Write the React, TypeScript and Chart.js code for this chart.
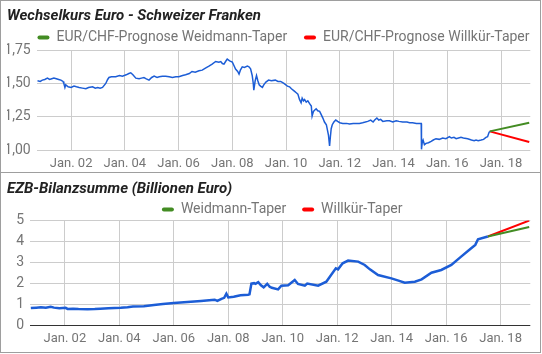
import React, { useEffect, useRef } from 'react';
import { Chart, registerables } from 'chart.js';

Chart.register(...registerables);

// ---------- data ----------
const chfYears = [
  2000.75, 2000.85, 2000.93, 2001.02, 2001.12, 2001.2, 2001.28, 2001.36, 2001.45, 2001.54, 2001.62, 2001.7,
  2001.73, 2001.77, 2001.8, 2001.89, 2002.0, 2002.11, 2002.2, 2002.3, 2002.42, 2002.55, 2002.65, 2002.8,
  2002.9, 2002.99, 2003.08, 2003.17, 2003.29, 2003.36, 2003.41, 2003.5, 2003.66, 2003.8, 2003.91, 2004.05,
  2004.15, 2004.22, 2004.3, 2004.41, 2004.53, 2004.62, 2004.71, 2004.8, 2004.9, 2005.0, 2005.09, 2005.2,
  2005.28, 2005.4, 2005.52, 2005.65, 2005.77, 2005.9, 2006.01, 2006.15, 2006.26, 2006.4, 2006.5, 2006.62,
  2006.76, 2006.88, 2007.0, 2007.13, 2007.25, 2007.38, 2007.5, 2007.57, 2007.63, 2007.69, 2007.75, 2007.81,
  2007.9, 2008.0, 2008.06, 2008.12, 2008.2, 2008.25, 2008.3, 2008.37, 2008.45, 2008.56, 2008.62, 2008.68,
  2008.74, 2008.78, 2008.8, 2008.85, 2008.9, 2008.95, 2009.0, 2009.05, 2009.12, 2009.17, 2009.25, 2009.35,
  2009.45, 2009.6, 2009.7, 2009.8, 2009.92, 2010.05, 2010.13, 2010.2, 2010.32, 2010.38, 2010.44, 2010.5,
  2010.56, 2010.6, 2010.65, 2010.69, 2010.75, 2010.81, 2010.87, 2010.94, 2010.97, 2011.02, 2011.07, 2011.12,
  2011.18, 2011.25, 2011.3, 2011.37, 2011.43, 2011.5, 2011.55, 2011.58, 2011.62, 2011.65, 2011.68, 2011.72,
  2011.78, 2011.85, 2011.92, 2012.0, 2012.11, 2012.25, 2012.36, 2012.5, 2012.6, 2012.73, 2012.85, 2012.95,
  2013.04, 2013.15, 2013.24, 2013.3, 2013.38, 2013.45, 2013.52, 2013.6, 2013.75, 2013.85, 2013.97, 2014.1,
  2014.2, 2014.34, 2014.5, 2014.6, 2014.71, 2014.85, 2014.95, 2015.03, 2015.04, 2015.07, 2015.1, 2015.15,
  2015.21, 2015.3, 2015.4, 2015.48, 2015.58, 2015.7, 2015.83, 2015.95, 2016.08, 2016.15, 2016.25, 2016.33,
  2016.42, 2016.51, 2016.6, 2016.76, 2016.9, 2017.0, 2017.07, 2017.15, 2017.26, 2017.35, 2017.44, 2017.5,
  2017.55, 2017.58,
];
const chfValues = [
  1.52, 1.515, 1.525, 1.53, 1.54, 1.53, 1.535, 1.54, 1.535, 1.53, 1.525, 1.515,
  1.5, 1.47, 1.49, 1.475, 1.47, 1.48, 1.475, 1.47, 1.465, 1.46, 1.47, 1.475,
  1.465, 1.47, 1.465, 1.47, 1.5, 1.53, 1.545, 1.55, 1.55, 1.56, 1.555, 1.565,
  1.575, 1.58, 1.565, 1.54, 1.535, 1.54, 1.545, 1.535, 1.525, 1.545, 1.555, 1.545,
  1.55, 1.555, 1.555, 1.55, 1.545, 1.55, 1.55, 1.56, 1.565, 1.575, 1.59, 1.585,
  1.595, 1.6, 1.615, 1.63, 1.645, 1.665, 1.66, 1.665, 1.65, 1.645, 1.665, 1.683,
  1.67, 1.66, 1.635, 1.608, 1.59, 1.57, 1.6, 1.625, 1.62, 1.63, 1.625, 1.61,
  1.56, 1.5, 1.45, 1.52, 1.56, 1.52, 1.49, 1.48, 1.47, 1.49, 1.51, 1.525,
  1.52, 1.525, 1.515, 1.515, 1.5, 1.48, 1.475, 1.46, 1.44, 1.43, 1.42, 1.38,
  1.355, 1.39, 1.37, 1.38, 1.36, 1.37, 1.35, 1.33, 1.255, 1.29, 1.3, 1.31,
  1.295, 1.29, 1.27, 1.24, 1.21, 1.19, 1.14, 1.11, 1.03, 1.1, 1.16, 1.19,
  1.21, 1.225, 1.215, 1.205, 1.2, 1.2, 1.195, 1.2, 1.2, 1.2, 1.205, 1.21,
  1.215, 1.225, 1.21, 1.225, 1.24, 1.225, 1.23, 1.215, 1.22, 1.22, 1.21, 1.22,
  1.215, 1.21, 1.21, 1.205, 1.205, 1.2, 1.2, 1.2, 1.005, 1.06, 1.075, 1.04,
  1.05, 1.055, 1.065, 1.075, 1.085, 1.08, 1.09, 1.085, 1.1, 1.09, 1.095, 1.085,
  1.09, 1.095, 1.09, 1.085, 1.075, 1.07, 1.075, 1.07, 1.075, 1.08, 1.095, 1.1,
  1.13, 1.14,
];
const chfForecastYears = [2017.58, 2019.05];
const chfWeidmann = [1.14, 1.205];
const chfWillkuer = [1.14, 1.06];
const chfTicks = [1.0, 1.25, 1.5, 1.75];

const ezbYears = [
  2000.75, 2000.95, 2001.12, 2001.3, 2001.48, 2001.6, 2001.8, 2002.03, 2002.1, 2002.3, 2002.5, 2002.83,
  2003.1, 2003.3, 2003.6, 2004.05, 2004.3, 2004.5, 2004.9, 2005.27, 2005.6, 2006.0, 2006.5, 2007.0,
  2007.4, 2007.5, 2007.6, 2007.75, 2007.85, 2007.93, 2008.0, 2008.2, 2008.45, 2008.73, 2008.78, 2008.85,
  2008.95, 2009.0, 2009.1, 2009.2, 2009.3, 2009.43, 2009.52, 2009.6, 2009.83, 2009.95, 2010.2, 2010.44,
  2010.56, 2010.81, 2010.9, 2011.3, 2011.6, 2011.73, 2011.95, 2012.03, 2012.2, 2012.4, 2012.77, 2013.01,
  2013.2, 2013.5, 2013.99, 2014.25, 2014.48, 2014.85, 2015.1, 2015.46, 2015.82, 2016.19, 2016.55, 2016.92,
  2017.07, 2017.17, 2017.53,
];
const ezbValues = [
  0.81, 0.83, 0.85, 0.83, 0.87, 0.83, 0.8, 0.82, 0.77, 0.78, 0.76, 0.75,
  0.76, 0.78, 0.8, 0.82, 0.85, 0.88, 0.9, 0.96, 1.0, 1.05, 1.1, 1.15,
  1.2, 1.21, 1.15, 1.25, 1.3, 1.5, 1.32, 1.35, 1.42, 1.45, 1.47, 1.98,
  2.0, 1.97, 2.05, 1.9, 1.8, 1.97, 1.83, 1.78, 1.7, 1.88, 1.9, 2.15,
  1.96, 1.88, 1.98, 1.88, 2.07, 2.31, 2.71, 2.66, 2.95, 3.08, 3.03, 2.87,
  2.66, 2.39, 2.23, 2.12, 2.02, 2.07, 2.18, 2.5, 2.63, 2.87, 3.27, 3.67,
  3.83, 4.1, 4.23,
];
const ezbForecastYears = [2017.53, 2019.05];
const ezbWeidmann = [4.23, 4.68];
const ezbWillkuer = [4.23, 4.99];
const ezbTicks = [0, 1, 2, 3, 4, 5];

const xTickYears = [2002, 2004, 2006, 2008, 2010, 2012, 2014, 2016, 2018];

// ---------- styling ----------
const BLUE = '#1c5dd6';
const GREEN = '#438c23';
const RED = '#ff0000';
const GRID = '#cccccc';
const TEXT = '#757575';
const FONT = 'Roboto';

const pts = (xs: number[], ys: number[]) => xs.map((x, i) => ({ x, y: ys[i] }));

const legendTrim = {
  id: 'legendTrim',
  beforeLayout(chart: any, _args: any, opts: any) {
    const lg = chart.legend;
    if (lg && !lg.__trimmed) {
      const origFit = lg.fit.bind(lg);
      lg.fit = function () {
        const mw = this.maxWidth;
        this.maxWidth = mw + 300;
        origFit();
        this.maxWidth = mw;
        this.width = mw;
        this.height = Math.max(0, this.height - (opts.trim || 0));
      };
      const origDraw = lg.draw.bind(lg);
      lg.draw = function () {
        const d = 40 + (opts.shift || 0);
        this.left -= 40;
        this.right += d;
        origDraw();
        this.left += 40;
        this.right -= d;
      };
      lg.__trimmed = true;
    }
  },
};

function makeConfig(p: {
  title: string;
  labels: string[];
  histX: number[];
  histY: number[];
  histWidth: number;
  fX: number[];
  fA: number[];
  fB: number[];
  yMin: number;
  yMax: number;
  yTicks: number[];
  yFmt: (v: number) => string;
  yWidth: number;
  xHeight: number;
  titleTop: number;
  legendPad: number;
  legendTrimPx: number;
  legendShift: number;
  zeroDark: boolean;
  spacer: string;
}): any {
  return {
    type: 'line',
    data: {
      datasets: [
        {
          label: 'hist',
          data: pts(p.histX, p.histY),
          borderColor: BLUE,
          backgroundColor: BLUE,
          borderWidth: p.histWidth,
          pointRadius: 0,
          tension: 0,
        },
        {
          label: p.labels[0],
          data: pts(p.fX, p.fA),
          borderColor: GREEN,
          backgroundColor: GREEN,
          borderWidth: 2,
          pointRadius: 0,
        },
        {
          label: p.labels[1],
          data: pts(p.fX, p.fB),
          borderColor: RED,
          backgroundColor: RED,
          borderWidth: 2,
          pointRadius: 0,
        },
      ],
    },
    options: {
      responsive: false,
      animation: false,
      events: [],
      layout: { padding: { left: 6, right: 9.7, top: 0, bottom: 0 } },
      plugins: {
        tooltip: { enabled: false },
        legendTrim: { trim: p.legendTrimPx, shift: p.legendShift },
        title: {
          display: true,
          text: p.title,
          align: 'start',
          color: '#222222',
          font: { family: FONT, size: 15, weight: 'bold', style: 'italic', lineHeight: 1.2 },
          padding: { top: p.titleTop, bottom: 0 },
        },
        legend: {
          display: true,
          position: 'top',
          align: 'center',
          fullSize: false,
          labels: {
            boxWidth: 12,
            boxHeight: 4,
            useBorderRadius: true,
            borderRadius: 2,
            padding: p.legendPad,
            color: TEXT,
            font: { family: FONT, size: 14 },
            filter: (item: any) => item.datasetIndex > 0,
            generateLabels: (chart: any) => {
              const items = Chart.defaults.plugins.legend.labels.generateLabels(chart);
              return items.map((it: any) => ({
                ...it,
                lineWidth: 0,
                text: it.datasetIndex === 1 ? it.text + p.spacer : it.text,
              }));
            },
          },
        },
      },
      scales: {
        x: {
          type: 'linear',
          min: 2000.72,
          max: 2019.09,
          afterBuildTicks: (s: any) => {
            s.ticks = xTickYears.map((v) => ({ value: v }));
          },
          afterFit: (s: any) => {
            s.height = p.xHeight;
          },
          ticks: {
            autoSkip: false,
            maxRotation: 0,
            padding: 6,
            color: TEXT,
            font: { family: FONT, size: 13 },
            callback: (v: any) => 'Jan. ' + String(Math.round(v) % 100).padStart(2, '0'),
          },
          grid: { color: GRID, lineWidth: 1, drawTicks: false },
          border: { display: false },
        },
        y: {
          type: 'linear',
          min: p.yMin,
          max: p.yMax,
          afterBuildTicks: (s: any) => {
            s.ticks = p.yTicks.map((v) => ({ value: v }));
          },
          afterFit: (s: any) => {
            s.width = p.yWidth;
          },
          ticks: {
            padding: 6,
            color: TEXT,
            font: { family: FONT, size: 14 },
            callback: (v: any) => p.yFmt(Number(v)),
          },
          grid: {
            drawTicks: false,
            lineWidth: 1,
            color: (ctx: any) => (p.zeroDark && ctx.tick && ctx.tick.value === 0 ? '#333333' : GRID),
          },
          border: { display: false },
        },
      },
    },
    plugins: [legendTrim],
  };
}

export default function App() {
  const topRef = useRef<HTMLCanvasElement>(null);
  const botRef = useRef<HTMLCanvasElement>(null);

  useEffect(() => {
    document.body.style.margin = '0';
    const top = new Chart(
      topRef.current as HTMLCanvasElement,
      makeConfig({
        title: 'Wechselkurs Euro - Schweizer Franken',
        labels: ['EUR/CHF-Prognose Weidmann-Taper', 'EUR/CHF-Prognose Willkür-Taper'],
        histX: chfYears,
        histY: chfValues,
        histWidth: 1.5,
        fX: chfForecastYears,
        fA: chfWeidmann,
        fB: chfWillkuer,
        yMin: 1,
        yMax: 1.75,
        yTicks: chfTicks,
        yFmt: (v) => v.toFixed(2).replace('.', ','),
        yWidth: 29.7,
        xHeight: 22,
        titleTop: 6.5,
        legendPad: 5,
        legendTrimPx: 4.3,
        legendShift: 0,
        zeroDark: false,
        spacer: '   \u200A',
      })
    );
    const bot = new Chart(
      botRef.current as HTMLCanvasElement,
      makeConfig({
        title: 'EZB-Bilanzsumme (Billionen Euro)',
        labels: ['Weidmann-Taper', 'Willkür-Taper'],
        histX: ezbYears,
        histY: ezbValues,
        histWidth: 2.5,
        fX: ezbForecastYears,
        fA: ezbWeidmann,
        fB: ezbWillkuer,
        yMin: 0,
        yMax: 5,
        yTicks: ezbTicks,
        yFmt: (v) => String(v),
        yWidth: 23,
        xHeight: 27,
        titleTop: 7.5,
        legendPad: 4,
        legendTrimPx: 6.1,
        legendShift: 4,
        zeroDark: true,
        spacer: '   \u200A',
      })
    );
    return () => {
      top.destroy();
      bot.destroy();
    };
  }, []);

  return (
    <div
      style={{
        position: 'relative',
        width: 541,
        height: 353,
        boxSizing: 'border-box',
        border: '1px solid #9e9e9e',
        background: '#ffffff',
      }}
    >
      <canvas ref={topRef} width={539} height={171} style={{ position: 'absolute', left: 0, top: 0, display: 'block' }} />
      <div style={{ position: 'absolute', left: 0, top: 171, width: 539, height: 1, background: '#9e9e9e' }} />
      <canvas ref={botRef} width={539} height={179} style={{ position: 'absolute', left: 0, top: 172, display: 'block' }} />
    </div>
  );
}
